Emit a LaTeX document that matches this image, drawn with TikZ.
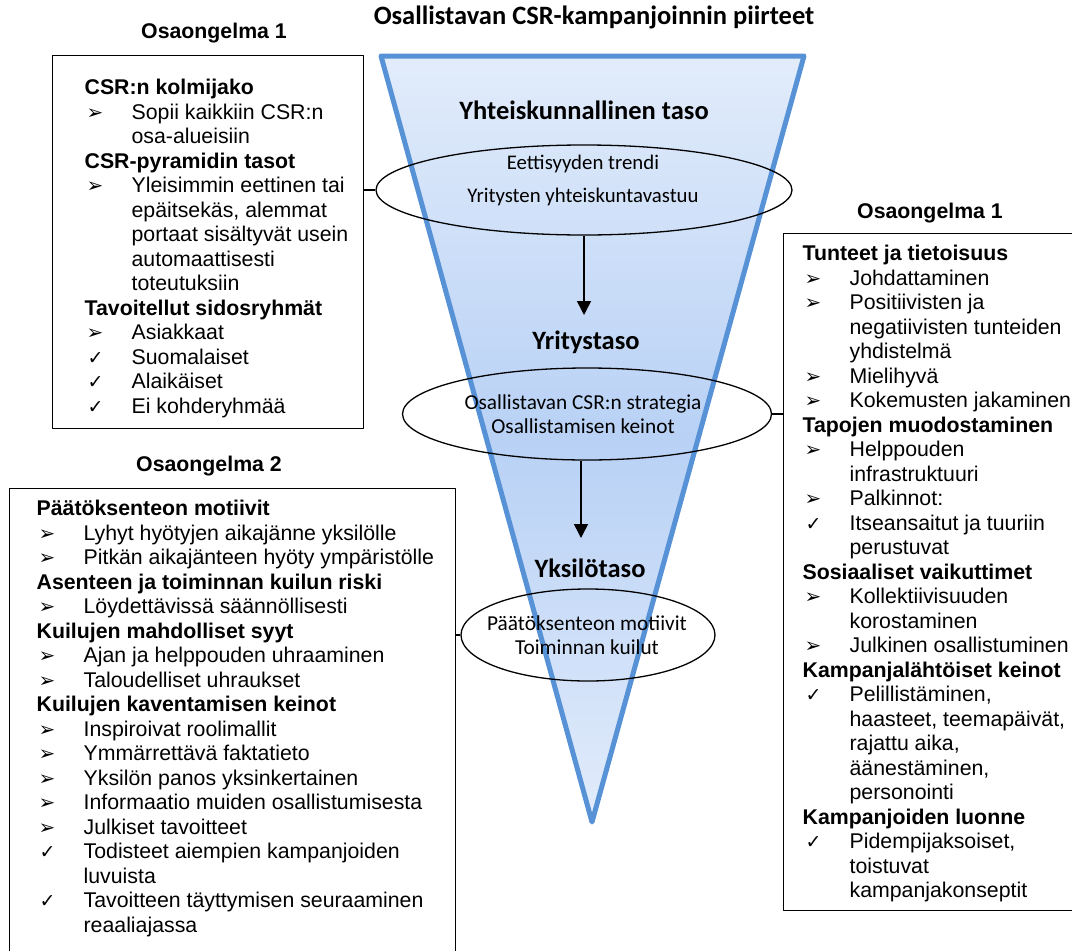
\documentclass[tikz,border=0pt]{standalone}
\usepackage{fontspec}
\setmainfont{Liberation Sans}
\newfontfamily\calibri{Carlito}
\newfontfamily\merkit{DejaVu Sans}
\usetikzlibrary{arrows.meta,shapes.geometric}
\definecolor{suppiloviiva}{RGB}{88,146,214}
\definecolor{suppiloyla}{RGB}{226,236,251}
\definecolor{suppilokeski}{RGB}{184,209,245}
% luettelon rivit
\newcommand\otsikko[1]{\par\noindent\textbf{#1}}
\newcommand\nuoli[1]{\par\hangindent=47pt\hangafter=1\noindent\makebox[47pt][l]{\hspace{2pt}{\merkit\fontsize{20}{20}\selectfont ➢}}#1}
\newcommand\rasti[1]{\par\hangindent=47pt\hangafter=1\noindent\makebox[47pt][l]{\hspace{3pt}{\merkit\fontsize{19}{19}\selectfont ✓}}#1}
\newcommand\lista[5]{\parbox[b][#2][t]{#1}{\raggedright\def\\{\newline}\leftskip=#3\relax\fontsize{21.3}{24.5}\selectfont\vspace*{#4}#5}}
\begin{document}
\begin{tikzpicture}[x=1pt,y=-1pt,line join=round,
  laatikko/.style={draw,line width=1.3pt,inner sep=0pt,anchor=north west},
  soikio/.style={ellipse,draw,line width=1.3pt,inner sep=0pt},
  soikioteksti/.style={align=center,inner sep=0pt},
  tasoteksti/.style={font={\calibri\bfseries\fontsize{26.5}{30}\selectfont}},
  osaotsikko/.style={font={\bfseries\fontsize{21.3}{24}\selectfont}},
  kulku/.style={line width=1.6pt,-{Triangle[length=14pt,width=14pt]}}]
\useasboundingbox (0,0) rectangle (1072,951);
\clip (0,0) rectangle (1072,951);
% suppilo
\fill[top color=suppiloyla,bottom color=suppiloyla,middle color=suppilokeski]
  (381,56) -- (804,56) -- (592,822) -- cycle;
\draw[suppiloviiva,line width=5pt] (381,56) -- (804,56) -- (592,822) -- cycle;
\node[font={\calibri\bfseries\fontsize{26.5}{30}\selectfont}] (paaotsikko) at (594,17) {Osallistavan CSR-kampanjoinnin piirteet};
\node[tasoteksti] (taso1) at (584,110) {Yhteiskunnallinen taso};
\node[tasoteksti] (taso2) at (586,342) {Yritystaso};
\node[tasoteksti] (taso3) at (590,568) {Yksilötaso};
% soikiot
\node[soikio,minimum width=416pt,minimum height=90pt] (e1) at (584,190) {};
\node[soikio,minimum width=369pt,minimum height=92pt] (e2) at (587,414) {};
\node[soikio,minimum width=254pt,minimum height=92pt] (e3) at (588,635) {};
\node[soikioteksti,font={\calibri\fontsize{20.8}{33}\selectfont}] (e1t) at (583,180) {Eettisyyden trendi\\Yritysten yhteiskuntavastuu};
\node[soikioteksti,font={\calibri\fontsize{21.3}{23.5}\selectfont}] (e2t) at (583,414) {Osallistavan CSR:n strategia\\Osallistamisen keinot};
\node[soikioteksti,font={\calibri\fontsize{21.3}{24}\selectfont}] (e3t) at (587,635) {Päätöksenteon motiivit\\Toiminnan kuilut};
\coordinate (k1) at (584,315);
\coordinate (k2) at (581,538);
\draw[kulku] (k1 |- e1.south) -- (k1);
\draw[kulku] (k2 |- e2.south) -- (k2);
% osaongelmat
\node[osaotsikko] (o1) at (214,33) {Osaongelma 1};
\node[osaotsikko] (o3) at (930,213) {Osaongelma 1};
\node[osaotsikko] (o2) at (209,466) {Osaongelma 2};
\node[laatikko] (op1) at (52,55) {\lista{311pt}{373pt}{32pt}{23.5pt}{%
  \otsikko{CSR:n kolmijako}
  \nuoli{Sopii kaikkiin CSR:n\\osa-alueisiin}
  \otsikko{CSR-pyramidin tasot}
  \nuoli{Yleisimmin eettinen tai\\epäitsekäs, alemmat\\portaat sisältyvät usein\\automaattisesti\\toteutuksiin}
  \otsikko{Tavoitellut sidosryhmät}
  \nuoli{Asiakkaat}
  \rasti{Suomalaiset}
  \rasti{Alaikäiset}
  \rasti{Ei kohderyhmää}}};
\node[laatikko] (op3) at (783,233) {\lista{300pt}{677pt}{19pt}{11.5pt}{%
  \otsikko{Tunteet ja tietoisuus}
  \nuoli{Johdattaminen}
  \nuoli{Positiivisten ja\\negatiivisten tunteiden\\yhdistelmä}
  \nuoli{Mielihyvä}
  \nuoli{Kokemusten jakaminen}
  \otsikko{Tapojen muodostaminen}
  \nuoli{Helppouden\\infrastruktuuri}
  \nuoli{Palkinnot:}
  \rasti{Itseansaitut ja tuuriin\\perustuvat}
  \otsikko{Sosiaaliset vaikuttimet}
  \nuoli{Kollektiivisuuden\\korostaminen}
  \nuoli{Julkinen osallistuminen}
  \otsikko{Kampanjalähtöiset keinot}
  \rasti{Pelillistäminen,\\haasteet, teemapäivät,\\rajattu aika,\\äänestäminen,\\personointi}
  \otsikko{Kampanjoiden luonne}
  \rasti{Pidempijaksoiset,\\toistuvat\\kampanjakonseptit}}};
\node[laatikko] (op2) at (9,488) {\lista{446pt}{480pt}{27pt}{11.5pt}{%
  \otsikko{Päätöksenteon motiivit}
  \nuoli{Lyhyt hyötyjen aikajänne yksilölle}
  \nuoli{Pitkän aikajänteen hyöty ympäristölle}
  \otsikko{Asenteen ja toiminnan kuilun riski}
  \nuoli{Löydettävissä säännöllisesti}
  \otsikko{Kuilujen mahdolliset syyt}
  \nuoli{Ajan ja helppouden uhraaminen}
  \nuoli{Taloudelliset uhraukset}
  \otsikko{Kuilujen kaventamisen keinot}
  \nuoli{Inspiroivat roolimallit}
  \nuoli{Ymmärrettävä faktatieto}
  \nuoli{Yksilön panos yksinkertainen}
  \nuoli{Informaatio muiden osallistumisesta}
  \nuoli{Julkiset tavoitteet}
  \rasti{Todisteet aiempien kampanjoiden\\luvuista}
  \rasti{Tavoitteen täyttymisen seuraaminen\\reaaliajassa}}};
% yhdysviivat
\draw[line width=1.3pt] (e1.west -| op1.east) -- (e1.west);
\draw[line width=1.3pt] (e2.east) -- (e2.east -| op3.west);
\draw[line width=1.3pt] (e3.west -| op2.east) -- (e3.west);
\end{tikzpicture}
\end{document}
